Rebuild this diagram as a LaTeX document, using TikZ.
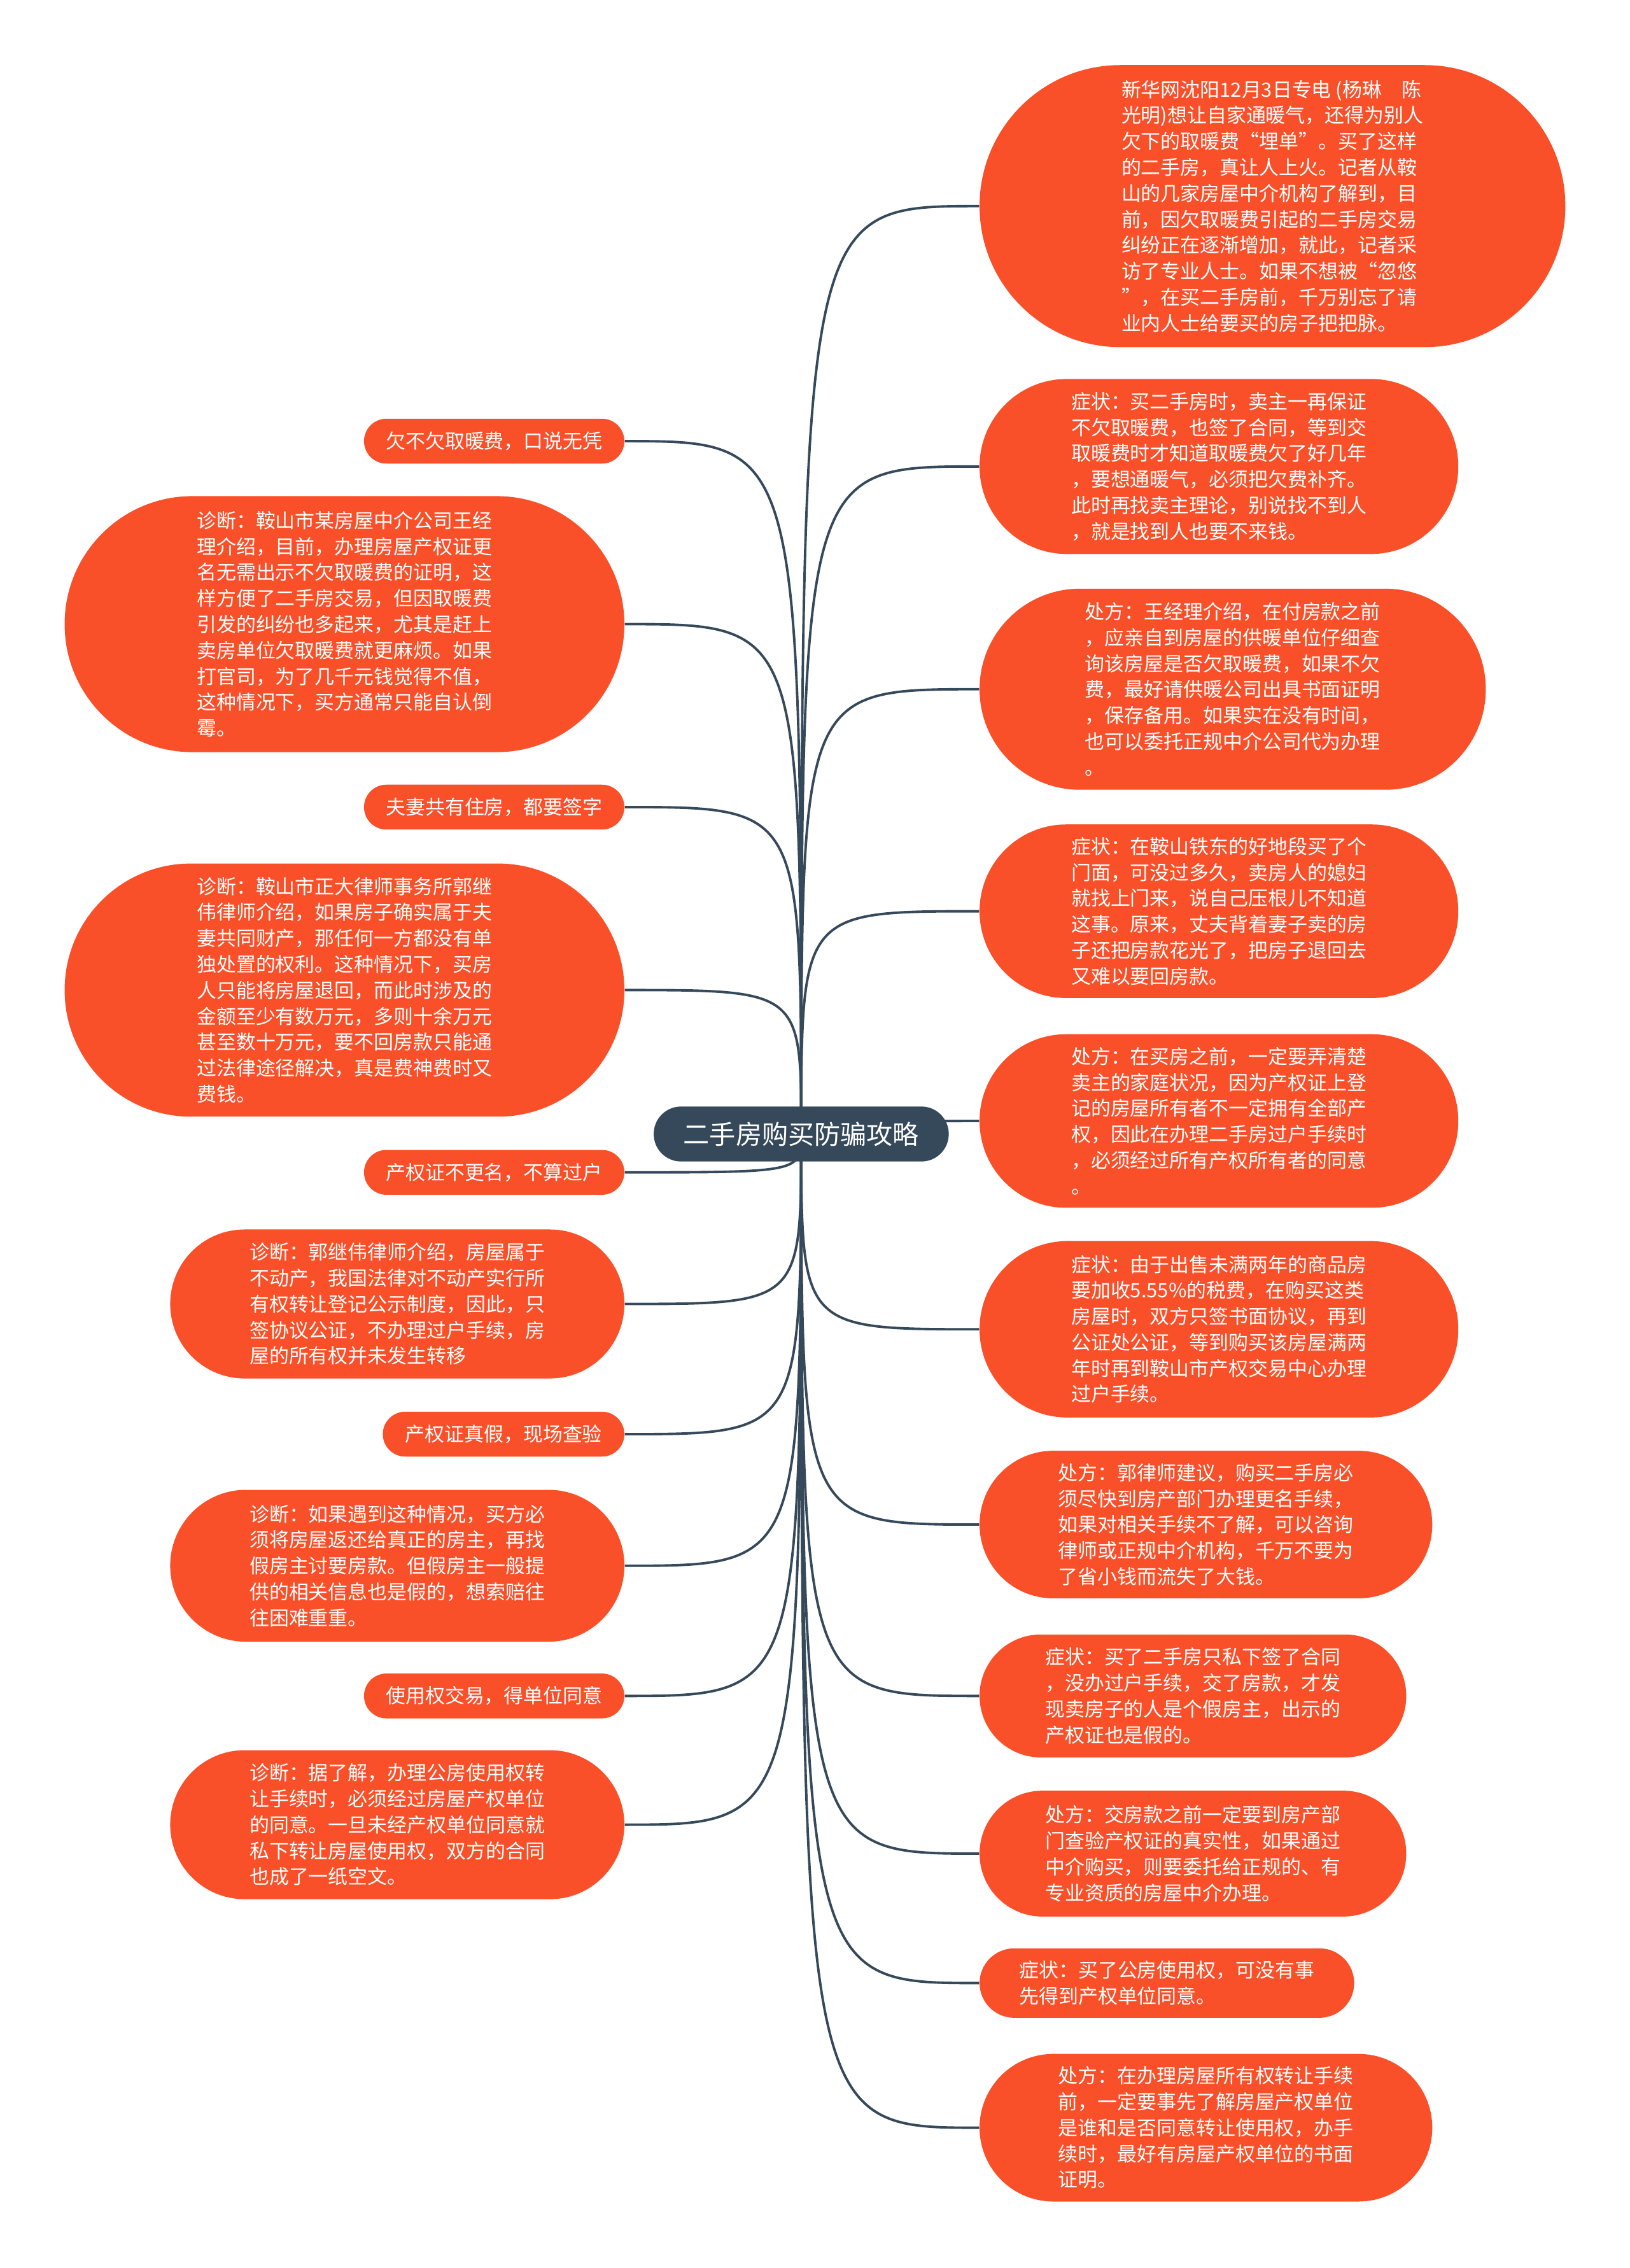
\documentclass[tikz,border=0pt]{standalone}
\usepackage{fontspec}
\newfontfamily\cjk{Noto Sans CJK SC}
\usepackage{tikz}
\usetikzlibrary{positioning, backgrounds}
\usepackage{xcolor}
\definecolor{mmorange}{HTML}{FA502A}
\definecolor{mmslate}{HTML}{36495B}
\def\upx{0.022715cm}

\begin{document}
\begin{tikzpicture}[x=\upx, y=-\upx,
  leaf/.style n args={2}{fill=mmorange, text=white, align=left, inner sep=0pt,
              font=\cjk\fontsize{8.8}{11.6}\selectfont,
              minimum width=#1*\upx, minimum height=#2*\upx,
              rounded corners=#2*0.499*\upx},
  rleaf/.style n args={2}{leaf={#1}{#2}, anchor=west},
  lleaf/.style n args={2}{leaf={#1}{#2}, anchor=east},
  link/.style={draw=mmslate, line width=1.1pt},
]
  \useasboundingbox (0,0) rectangle (1127,1568);

  \node[fill=mmslate, text=white, inner sep=0pt, minimum width=204*\upx,
        minimum height=38*\upx, rounded corners=18.9*\upx,
        font=\cjk\fontsize{11.7}{14}\selectfont] (root) at (554,784) {二手房购买防骗攻略};

  % right side
  \node[rleaf={405}{195}] (r1) at (677,142.5) {新华网沈阳12月3日专电 (杨琳　陈\\
    光明)想让自家通暖气，还得为别人\\欠下的取暖费“埋单”。买了这样\\
    的二手房，真让人上火。记者从鞍\\山的几家房屋中介机构了解到，目\\
    前，因欠取暖费引起的二手房交易\\纠纷正在逐渐增加，就此，记者采\\
    访了专业人士。如果不想被“忽悠\\”，在买二手房前，千万别忘了请\\
    业内人士给要买的房子把把脉。};
  \node[rleaf={331}{121}] (r2) at (677,322.5) {症状：买二手房时，卖主一再保证\\
    不欠取暖费，也签了合同，等到交\\取暖费时才知道取暖费欠了好几年\\
    ，要想通暖气，必须把欠费补齐。\\此时再找卖主理论，别说找不到人\\
    ，就是找到人也要不来钱。};
  \node[rleaf={350}{139}] (r3) at (677,476.5) {处方：王经理介绍，在付房款之前\\
    ，应亲自到房屋的供暖单位仔细查\\询该房屋是否欠取暖费，如果不欠\\
    费，最好请供暖公司出具书面证明\\，保存备用。如果实在没有时间，\\
    也可以委托正规中介公司代为办理\\。};
  \node[rleaf={331}{120}] (r4) at (677,630) {症状：在鞍山铁东的好地段买了个\\
    门面，可没过多久，卖房人的媳妇\\就找上门来，说自己压根儿不知道\\
    这事。原来，丈夫背着妻子卖的房\\子还把房款花光了，把房子退回去\\
    又难以要回房款。};
  \node[rleaf={331}{120}] (r5) at (677,775) {处方：在买房之前，一定要弄清楚\\
    卖主的家庭状况，因为产权证上登\\记的房屋所有者不一定拥有全部产\\
    权，因此在办理二手房过户手续时\\，必须经过所有产权所有者的同意\\。};
  \node[rleaf={331}{122}] (r6) at (677,919) {症状：由于出售未满两年的商品房\\
    要加收5.55\%的税费，在购买这类\\房屋时，双方只签书面协议，再到\\
    公证处公证，等到购买该房屋满两\\年时再到鞍山市产权交易中心办理\\
    过户手续。};
  \node[rleaf={313}{102}] (r7) at (677,1054) {处方：郭律师建议，购买二手房必\\
    须尽快到房产部门办理更名手续，\\如果对相关手续不了解，可以咨询\\
    律师或正规中介机构，千万不要为\\了省小钱而流失了大钱。};
  \node[rleaf={295}{85}] (r8) at (677,1172.5) {症状：买了二手房只私下签了合同\\
    ，没办过户手续，交了房款，才发\\现卖房子的人是个假房主，出示的\\
    产权证也是假的。};
  \node[rleaf={295}{87}] (r9) at (677,1281.5) {处方：交房款之前一定要到房产部\\
    门查验产权证的真实性，如果通过\\中介购买，则要委托给正规的、有\\
    专业资质的房屋中介办理。};
  \node[rleaf={259}{48}] (r10) at (677,1371) {症状：买了公房使用权，可没有事\\
    先得到产权单位同意。};
  \node[rleaf={313}{102}] (r11) at (677,1471) {处方：在办理房屋所有权转让手续\\
    前，一定要事先了解房屋产权单位\\是谁和是否同意转让使用权，办手\\
    续时，最好有房屋产权单位的书面\\证明。};

  % left side
  \node[lleaf={180}{31}] (l1) at (432,305) {欠不欠取暖费，口说无凭};
  \node[lleaf={387}{177}] (l2) at (432,431.5) {诊断：鞍山市某房屋中介公司王经\\
    理介绍，目前，办理房屋产权证更\\名无需出示不欠取暖费的证明，这\\
    样方便了二手房交易，但因取暖费\\引发的纠纷也多起来，尤其是赶上\\
    卖房单位欠取暖费就更麻烦。如果\\打官司，为了几千元钱觉得不值，\\
    这种情况下，买方通常只能自认倒\\霉。};
  \node[lleaf={180}{31}] (l3) at (432,558) {夫妻共有住房，都要签字};
  \node[lleaf={387}{175}] (l4) at (432,684.5) {诊断：鞍山市正大律师事务所郭继\\
    伟律师介绍，如果房子确实属于夫\\妻共同财产，那任何一方都没有单\\
    独处置的权利。这种情况下，买房\\人只能将房屋退回，而此时涉及的\\
    金额至少有数万元，多则十余万元\\甚至数十万元，要不回房款只能通\\
    过法律途径解决，真是费神费时又\\费钱。};
  \node[lleaf={180}{31}] (l5) at (432,810.5) {产权证不更名，不算过户};
  \node[lleaf={314}{103}] (l6) at (432,901.5) {诊断：郭继伟律师介绍，房屋属于\\
    不动产，我国法律对不动产实行所\\有权转让登记公示制度，因此，只\\
    签协议公证，不办理过户手续，房\\屋的所有权并未发生转移};
  \node[lleaf={167}{31}] (l7) at (432,991.5) {产权证真假，现场查验};
  \node[lleaf={314}{105}] (l8) at (432,1082.5) {诊断：如果遇到这种情况，买方必\\
    须将房屋返还给真正的房主，再找\\假房主讨要房款。但假房主一般提\\
    供的相关信息也是假的，想索赔往\\往困难重重。};
  \node[lleaf={180}{31}] (l9) at (432,1172.5) {使用权交易，得单位同意};
  \node[lleaf={314}{103}] (l10) at (432,1261.5) {诊断：据了解，办理公房使用权转\\
    让手续时，必须经过房屋产权单位\\的同意。一旦未经产权单位同意就\\
    私下转让房屋使用权，双方的合同\\也成了一纸空文。};

  \begin{scope}[on background layer]
    \foreach \n in {r1,r2,r3,r4,r5,r6,r7,r8,r9,r10,r11}
      \draw[link] (root.center) .. controls (root.center |- \n.west) .. (\n.west);
    \foreach \n in {l1,l2,l3,l4,l5,l6,l7,l8,l9,l10}
      \draw[link] (root.center) .. controls (root.center |- \n.east) .. (\n.east);
  \end{scope}
\end{tikzpicture}
\end{document}
